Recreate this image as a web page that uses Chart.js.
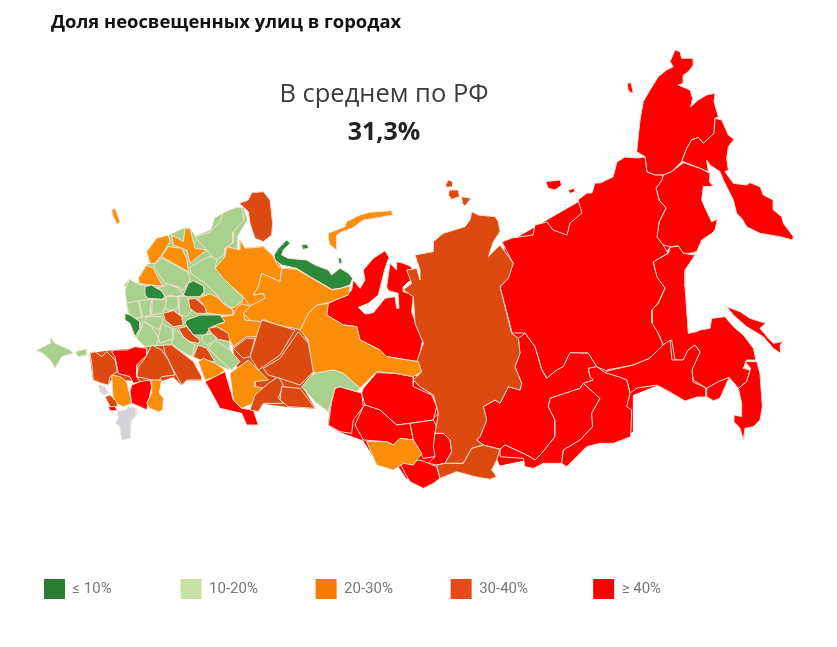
<!DOCTYPE html>
<html lang="ru"><head><meta charset="utf-8">
<style>html,body{margin:0;padding:0;background:#fff}canvas{display:block}</style>
<script src="https://cdn.jsdelivr.net/npm/chart.js@4/dist/chart.umd.min.js"></script>
</head><body><canvas id="c" width="837" height="647"></canvas>
<script>
const chartTitle = 'Доля неосвещенных улиц в городах';
const avgLabel = 'В среднем по РФ';
const avgValue = '31,3%';
const classLabels = ['≤ 10%   ', '10-20%', '20-30%', '30-40%  ', '≥ 40%'];
const classColors = ['#2b8a3a', '#a9d18e', '#fb8e08', '#dc4a12', '#ff0000'];
const legendColors = ['#2b7d33', '#c5e1a5', '#f57c00', '#e64a19', '#ff0000'];
const noDataColor = '#d4d3d9';
const G = 0, L = 1, O = 2, D = 3, R = 4, N = 5;

// traced outlines, in picture-grid units: [frame origin x, origin y, divisor]
const P = [0, 0, 1], Z1 = [30, 180, 3], Z2 = [200, 180, 3], Z3 = [400, 180, 3], Z4 = [600, 40, 3];

const landEast = [505,245,600,190,640,165,665,180,685,165,700,170,692,215,660,260,668,330,685,335,700,345,706,388,685,400,657,385,632,395,632,432,600,442,570,450,525,460,500,465,490,440,513,400,513,335,505,290];
const landSiberia = [395,660,405,625,485,640,530,578,650,590,690,640,720,690,720,880,710,900,620,895,590,850,515,820,490,780,420,755,385,735];
const landVolga = [45,265,75,230,80,200,120,210,120,180,135,205,190,200,220,230,245,265,290,268,330,292,395,330,450,318,445,345,385,368,350,375,325,400,300,450,285,450,240,525,190,560,130,535,100,500,70,450,40,435,65,410,100,385,130,350,95,320];
const landUrals = [100,505,190,420,300,450,325,490,340,575,305,620,345,685,265,680,190,670,150,690,165,645,125,620];
const landNorthwest = [325,310,350,255,375,250,350,215,380,175,420,165,465,145,480,145,495,170,545,150,555,115,600,90,640,85,650,120,620,170,620,260,600,320,600,420,400,320];
const landSouth = [180,520,250,512,350,503,400,497,430,500,490,545,515,600,470,600,455,615,430,590,385,605,365,605,330,605,300,600,240,600,235,615,190,600];
const chukotka = [110,335,120,240,130,185,150,150,175,110,200,90,220,80,210,65,225,30,240,35,245,55,280,55,280,75,265,95,250,105,250,130,235,135,270,150,278,175,272,200,295,180,320,165,345,160,342,185,355,230,345,235,342,280,310,310,295,292,275,300,260,325,245,365,215,395,190,405,165,405,140,395,135,350];
const wrangel = [82,130,92,128,100,158,92,158,84,148];
const kamchatka = [345,235,365,240,385,285,402,298,385,320,380,355,385,390,375,395,400,430,440,435,450,428,480,440,490,465,520,480,520,510,545,530,550,550,580,590,578,600,540,590,480,580,440,560,425,535,410,520,400,480,370,420,360,395,330,375,320,360,325,395,300,385,250,365,245,365,260,325,275,300,295,292,310,310,342,280];
const magadan = [250,368,300,385,330,400,328,425,340,438,310,440,305,480,318,510,335,545,352,538,345,570,335,580,305,600,290,635,270,640,250,640,235,618,210,620,190,615,170,590,178,545,198,505,178,480,168,445,185,420,190,405,215,395];
const khabarovsk = [210,622,235,618,250,640,285,645,255,690,255,740,265,880,290,875,300,870,330,865,335,835,375,830,400,860,430,885,460,925,468,960,440,960,430,985,450,990,440,1025,415,1045,390,1015,355,1025,320,1045,280,1020,275,990,300,935,285,915,265,930,250,960,225,960,215,900,190,915,175,880,155,850,155,810,175,790,195,745,170,710,160,665,205,640];
const amur = [607,371,633,365,650,358,663,345,670,340,672,360,683,360,688,350,695,345,700,352,692,370,693,382,706,388,706,397,697,397,685,401,670,392,657,385,637,388,630,393,627,380,618,377,605,373];
const jewish = [320,1045,355,1025,388,1012,375,1040,360,1075,340,1082,320,1070];
const primorye = [415,1045,440,1025,452,985,435,965,470,965,480,1000,487,1100,480,1140,460,1160,435,1165,430,1200,420,1165,402,1145,402,1125,425,1130,425,1090];
const sakhalin = [380,800,420,815,450,835,497,850,480,865,505,895,520,910,550,905,540,915,542,940,520,925,490,890,440,860,400,825];
const yakutia = [502,242,512,238,533,235,535,225,547,222,553,230,567,235,570,223,582,213,578,200,587,193,592,193,595,183,600,183,613,177,617,162,625,157,637,158,645,157,647,172,655,175,663,175,662,180,656,188,659,200,666,208,659,222,657,237,663,245,668,253,653,262,657,277,665,288,658,303,652,310,652,323,658,333,663,345,650,358,633,365,607,370,607,371,597,367,588,353,570,353,563,367,557,370,547,378,542,370,535,347,525,333,512,333,507,313,500,287,508,278,513,263];
const lenaIsle = [437,5,480,0,485,15,465,30,445,25];
const smallIsle = [505,30,525,25,525,35,510,40];
const krasnoyarsk = [215,95,235,105,285,110,295,125,300,155,280,185,265,230,300,195,340,250,325,295,300,320,320,400,335,460,355,475,360,520,345,560,365,610,360,630,325,620,300,670,285,660,250,680,260,720,240,770,230,780,250,795,215,805,190,850,135,850,155,815,150,780,130,760,105,760,115,700,100,645,60,620,40,600,65,575,50,545,70,490,45,430,40,350,10,330,35,310,20,270,50,265,60,300,60,270,45,225,100,215,100,185,130,160,195,140,210,120];
const severIsleA = [137,15,145,0,158,5,158,20,140,22];
const severIsleB = [148,30,175,30,178,50,155,58,145,45];
const severIsleC = [185,50,213,55,195,78,187,70];
const tuva = [110,855,135,850,190,850,215,805,250,795,300,808,290,840,275,870,290,890,270,898,225,890,170,875,120,895];
const irkutsk = [355,475,375,460,405,500,425,570,440,595,470,570,490,560,510,518,565,520,590,560,565,565,570,590,580,600,550,610,540,625,450,655,445,680,465,720,465,770,425,820,405,840,380,825,315,795,300,808,250,795,230,780,240,770,260,720,250,680,285,660,300,670,325,620,360,630,365,610,345,560,360,520];
const buryatia = [550,610,600,655,575,700,578,740,540,780,490,810,485,850,430,850,400,865,375,860,370,835,300,830,300,808,315,795,380,825,405,840,425,820,465,770,465,720,445,680,450,655,540,625];
const zabaikal = [565,565,590,560,615,578,655,590,680,600,690,640,680,680,695,690,692,770,640,790,600,790,560,800,500,860,485,850,490,810,540,780,578,740,575,700,600,655,550,610,580,600,570,590];
const yamal = [460,300,480,325,495,300,490,270,520,235,555,212,567,232,555,265,545,305,535,345,505,370,475,382,495,402,520,398,555,355,585,350,590,385,597,385,594,340,565,332,560,320,570,250,590,270,590,245,610,250,630,258,640,270,645,300,625,305,610,320,610,335,640,345,635,395,650,440,668,480,655,545,560,530,540,510,480,480,470,440,430,435,380,405,385,370,440,345,455,330];
const nenets = [222,225,235,205,260,180,270,190,250,210,245,225,265,235,320,240,345,255,385,270,395,285,420,265,445,280,458,295,450,315,420,325,395,328,365,310,330,290,290,265,245,255,225,240];
const kolguev = [305,195,322,193,326,205,308,208];
const vaigach = [415,233,424,235,426,250,417,250];
const novayaZemlya = [385,160,410,150,435,140,440,125,480,105,510,97,575,92,578,105,540,112,490,120,455,145,425,155,410,165,410,210,390,195,385,175];
const arkhangelsk = [195,237,210,232,220,222,223,213,237,207,242,208,244,220,233,232,233,243,225,248,225,255,215,260,207,250,200,243];
const kola = [118,70,145,60,155,38,190,35,210,60,218,130,215,165,190,185,165,175,150,130,145,95];
const northOrange = [80,200,120,210,120,180,135,205,190,200,220,230,235,260,245,265,240,305,185,280,175,320,160,345,190,340,195,355,150,378,130,350,95,320,65,290,45,265,75,230];
const komi = [245,265,290,268,330,292,365,312,395,330,420,326,450,318,445,345,385,368,350,375,325,400,300,450,285,445,230,435,190,418,180,440,150,420,130,400,150,378,195,355,190,340,160,345,175,320,185,280,240,305];
const vologda = [190,267,208,257,212,257,217,260,215,268,222,277,232,287,243,297,242,302,233,308,223,303,217,295,205,283,190,273];
const tyumen = [350,375,385,370,380,405,430,435,470,440,480,480,540,510,560,530,655,545,665,575,640,590,585,580,530,575,480,625,430,580,400,570,345,580,335,560,325,480,300,450,325,400];
const kurgan = [305,620,330,590,345,580,400,570,430,580,480,625,470,635,420,620,405,625,395,660,385,695,345,665];
const novosib = [405,625,420,620,470,635,485,640,490,680,460,720,455,760,420,755,385,735,395,665];
const tomsk = [530,578,585,580,640,590,640,620,695,645,710,680,700,720,630,730,590,735,540,690,495,675,485,640,490,625];
const altaiNorth = [495,675,540,690,590,735,630,730,640,780,600,775,580,795,560,785,490,780,465,735,490,680];
const altaiKrai = [500,785,560,785,580,795,600,775,640,780,665,820,640,855,610,850,580,870,530,855,515,820];
const kemerovo = [630,730,700,720,710,740,705,760,705,830,670,835,660,815,640,780];
const khakassia = [105,760,130,760,150,780,155,815,135,850,110,855,85,850,105,830,100,800];
const altaiRep = [0,850,60,840,85,850,110,860,120,895,100,910,70,925,30,905,15,880];
const krasNorthRed = [40,600,60,620,100,645,115,700,100,715,20,725,0,730,0,590];
const crimea = [18,512,60,490,62,473,75,490,120,510,130,520,95,530,75,565,65,545,40,520];
const kerch = [135,515,170,507,170,525,145,530];
const kaliningrad = [245,90,255,85,270,125,262,133,250,110];
const karelia = [350,215,380,175,415,165,420,185,395,225,375,250,360,250];
const orangeB = [425,165,460,185,465,145,480,145,495,205,530,210,510,225,480,250,470,210,430,195];
const orangeC = [395,230,415,200,455,205,470,235,475,275,430,250];
const orangeD = [325,295,350,255,370,265,385,295,400,320,340,312,328,310];
const greenE = [370,255,395,235,430,252,475,278,480,300,460,330,445,320,405,310,385,280];
const greenF = [282,315,298,298,310,312,335,315,345,325,345,345,350,352,310,350,295,330];
const darkA = [345,320,365,315,380,325,395,332,405,350,395,358,355,355,345,345];
const greenG = [400,320,415,312,445,325,460,345,440,350,420,345,405,350,395,332,380,322];
const darkB = [460,345,475,310,490,302,520,318,522,335,510,350,470,350];
const centerBase = [290,370,285,330,298,298,330,315,345,315,400,318,460,345,530,345,570,400,600,420,600,500,600,570,490,530,400,495,345,500,320,475,300,430];
const cellA = [290,370,325,362,330,385,335,412,315,415,295,400];
const cellB = [327,362,365,358,360,385,362,405,338,412];
const cellC = [367,358,410,358,405,385,395,400,365,405];
const cellD = [410,350,445,350,445,385,420,392,405,385];
const cellE = [447,348,470,350,490,385,470,410,450,405,447,385];
const burntA = [475,358,495,355,525,380,530,400,500,400,480,385];
const orangeF = [198,298,210,294,217,297,225,305,233,310,233,315,222,315,207,313,205,307];
const kirov = [125,372,140,375,150,380,130,400,135,420,185,425,190,440,170,470,140,470,100,500,90,480,70,450,40,435,70,430,65,410,100,405,110,385];
const darkC = [470,420,510,405,570,405,585,425,545,440,525,465,490,465,465,430];
const burntB = [400,400,430,392,455,410,460,435,430,440,405,420];
const darkD = [285,400,300,405,330,425,330,445,315,470,300,430,285,420];
const cellF = [340,425,365,440,385,475,380,495,345,500,320,475,335,445];
const cellG = [350,410,395,410,400,425,385,450,370,440,345,425];
const cellH = [395,430,425,445,430,475,390,490,385,470];
const burntC = [445,445,470,440,490,465,510,480,505,490,480,485,460,470];
const cellI = [430,445,450,460,470,480,495,495,485,530,450,510,425,490,430,470];
const cellJ = [520,465,550,460,560,480,530,495,515,480];
const burntD = [535,445,560,440,595,460,600,485,565,478,545,460];
const cellK = [25,505,45,480,90,510,120,545,95,570,60,540];
const burntE = [490,530,505,495,530,505,555,545,510,540];
const orangeG = [505,545,520,535,555,550,585,570,560,590,525,600];
const burntF = [400,495,425,495,490,545,515,590,515,600,470,600,455,615,430,570,405,520];
const burntG = [365,495,395,510,415,540,435,585,395,590,385,605,345,595,320,590,325,560,345,535];
const redA = [255,510,290,510,315,500,350,505,350,525,320,555,320,590,330,605,310,610,300,590,265,580,255,530,245,515];
const burntH = [180,520,195,515,215,530,230,515,255,540,262,575,240,590,235,615,215,610,190,600,185,550];
const orangeH = [245,585,270,590,290,605,305,670,280,680,250,665];
const grayA = [205,615,225,620,235,640,220,645,210,635];
const burntI = [225,650,240,645,260,665,262,680,240,680];
const redB = [235,680,255,680,262,692,240,692];
const grayB = [262,695,290,690,295,680,318,685,318,705,303,725,300,775,275,780,270,740,258,730,265,715];
const redC = [305,615,330,605,360,600,365,620,350,690,330,680,305,670,300,635];
const orangeI = [365,600,395,600,388,640,400,655,398,690,385,695,360,685,350,670,365,640];
const redD = [15,605,75,575,100,660,125,685,160,690,175,735,140,735,125,700,60,685,30,630];
const orangeJ = [90,580,145,540,205,600,165,605,165,620,200,625,160,670,125,685,100,660];
const burntJ = [150,690,165,645,205,610,235,590,250,615,235,655,250,670,190,670,175,695];
const burntK = [245,620,300,625,345,685,265,680,240,660];
const burntL = [190,565,240,535,295,455,325,490,340,575,300,615,240,595,205,585];
const burntM = [150,530,185,420,235,435,285,450,240,525,190,560,175,570];
const burntN = [100,505,140,475,165,475,150,530,130,535];

// class, frame, outline — painted in this order
const regionRows = [
  ['landEast',R,P,landEast],['landSiberia',R,Z2,landSiberia],['landVolga',O,Z2,landVolga],['landUrals',D,Z2,landUrals],['landNorthwest',L,Z1,landNorthwest],['landSouth',D,Z1,landSouth],
  ['chukotka',R,Z4,chukotka],['wrangel',R,Z4,wrangel],['kamchatka',R,Z4,kamchatka],['magadan',R,Z4,magadan],
  ['khabarovsk',R,Z4,khabarovsk],['amur',R,P,amur],['jewish',R,Z4,jewish],['primorye',R,Z4,primorye],['sakhalin',R,Z4,sakhalin],
  ['yakutia',R,P,yakutia],['lenaIsle',R,Z3,lenaIsle],['smallIsle',R,Z3,smallIsle],
  ['irkutsk',R,Z3,irkutsk],['buryatia',R,Z3,buryatia],['zabaikal',R,Z3,zabaikal],
  ['yamal',R,Z2,yamal],['krasNorthRed',R,Z3,krasNorthRed],['tomsk',R,Z2,tomsk],['novosib',R,Z2,novosib],['altaiNorth',R,Z2,altaiNorth],
  ['kemerovo',R,Z2,kemerovo],['khakassia',R,Z3,khakassia],['altaiRep',R,Z3,altaiRep],
  ['krasnoyarsk',D,Z3,krasnoyarsk],['severIsleA',D,Z3,severIsleA],['severIsleB',D,Z3,severIsleB],['severIsleC',D,Z3,severIsleC],['tuva',D,Z3,tuva],
  ['altaiKrai',O,Z2,altaiKrai],['tyumen',O,Z2,tyumen],['kurgan',L,Z2,kurgan],
  ['nenets',G,Z2,nenets],['kolguev',G,Z2,kolguev],['vaigach',G,Z2,vaigach],['novayaZemlya',O,Z2,novayaZemlya],
  ['kola',D,Z2,kola],['arkhangelsk',L,P,arkhangelsk],['northOrange',O,Z2,northOrange],['komi',O,Z2,komi],['vologda',L,P,vologda],
  ['crimea',L,Z1,crimea],['kerch',L,Z1,kerch],['kaliningrad',O,Z1,kaliningrad],
  ['karelia',O,Z1,karelia],['orangeB',O,Z1,orangeB],['orangeC',O,Z1,orangeC],['orangeD',O,Z1,orangeD],['greenE',L,Z1,greenE],['greenF',L,Z1,greenF],
  ['centerBase',L,Z1,centerBase],['darkA',G,Z1,darkA],['greenG',L,Z1,greenG],['darkB',G,Z1,darkB],
  ['cellA',L,Z1,cellA],['cellB',L,Z1,cellB],['cellC',L,Z1,cellC],['cellD',L,Z1,cellD],['cellE',L,Z1,cellE],['burntA',D,Z1,burntA],
  ['orangeF',O,P,orangeF],['kirov',O,Z2,kirov],['darkC',G,Z1,darkC],['burntB',D,Z1,burntB],['darkD',G,Z1,darkD],
  ['cellF',L,Z1,cellF],['cellG',L,Z1,cellG],['cellH',L,Z1,cellH],['burntC',D,Z1,burntC],['cellI',L,Z1,cellI],['cellJ',L,Z1,cellJ],['burntD',D,Z1,burntD],
  ['cellK',L,Z2,cellK],['burntE',D,Z1,burntE],['orangeG',O,Z1,orangeG],['burntF',D,Z1,burntF],['burntG',D,Z1,burntG],['redA',R,Z1,redA],
  ['burntH',D,Z1,burntH],['orangeH',O,Z1,orangeH],['grayA',N,Z1,grayA],['burntI',D,Z1,burntI],['redB',R,Z1,redB],['grayB',N,Z1,grayB],
  ['redC',R,Z1,redC],['orangeI',O,Z1,orangeI],['redD',R,Z2,redD],['orangeJ',O,Z2,orangeJ],['burntJ',D,Z2,burntJ],['burntK',D,Z2,burntK],
  ['burntL',D,Z2,burntL],['burntM',D,Z2,burntM],['burntN',D,Z2,burntN]
];
const underlays = ['landEast','landSiberia','landVolga','landUrals','landNorthwest','landSouth'];

function toPoints(f, flat) {
  const pts = [];
  for (let i = 0; i < flat.length; i += 2) pts.push({x: f[0] + flat[i] / f[2], y: f[1] + flat[i + 1] / f[2]});
  pts.push(pts[0]);
  return pts;
}
const colorOf = c => c === N ? noDataColor : classColors[c];
const datasets = regionRows.map(([name, c, f, flat]) => ({
  label: name, data: toPoints(f, flat), showLine: true, fill: 'shape', tension: 0,
  backgroundColor: colorOf(c), borderColor: underlays.includes(name) ? colorOf(c) : '#f4dfcf',
  borderWidth: 1, pointRadius: 0, clip: false
})).reverse();

const mapFit = {
  id: 'mapFit',
  afterLayout(chart) {
    const a = chart.chartArea, {x, y} = chart.scales;
    x.min = a.left; x.max = a.right; x.configure();
    y.min = a.top; y.max = a.bottom; y.configure();
    chart.titleBlock.left = 51;
    chart.legend.left = 44 - chart.options.plugins.legend.labels.padding;
    chart.legend.top = 579 - chart.options.plugins.legend.labels.padding;
  }
};
const centerNote = {
  id: 'centerNote',
  afterDraw(chart) {
    const c = chart.ctx;
    c.save(); c.textAlign = 'center'; c.textBaseline = 'middle';
    c.fillStyle = '#3c3c3c'; c.font = '25.5px "Open Sans"'; c.fillText(avgLabel, 384, 95);
    c.fillStyle = '#222'; c.font = 'bold 25px "Open Sans"'; c.fillText(avgValue, 384, 133);
    c.restore();
  }
};

new Chart(document.getElementById('c'), {
  type: 'scatter',
  data: {datasets},
  plugins: [mapFit, centerNote],
  options: {
    responsive: false, animation: false, events: [],
    layout: {padding: 0},
    scales: {
      x: {type: 'linear', display: false, min: 0, max: 837},
      y: {type: 'linear', display: false, reverse: true, min: 0, max: 647}
    },
    plugins: {
      tooltip: {enabled: false},
      title: {display: true, text: chartTitle, align: 'start', color: '#111',
        font: {family: '"Open Sans"', size: 18.4, weight: 'bold'}, padding: {top: 12, bottom: 0}},
      legend: {
        display: true, position: 'bottom', align: 'start',
        labels: {
          boxWidth: 21, boxHeight: 20, padding: 57.7, color: '#777',
          font: {family: 'Roboto', size: 15},
          generateLabels: () => classLabels.map((t, i) => ({
            text: t, fillStyle: legendColors[i], strokeStyle: legendColors[i], lineWidth: 0, hidden: false, datasetIndex: i, fontColor: '#777'
          }))
        }
      }
    }
  }
});
</script></body></html>
